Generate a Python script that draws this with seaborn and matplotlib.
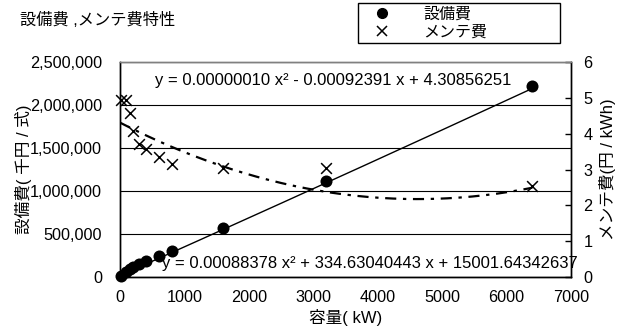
import numpy as np
import pandas as pd
import matplotlib
matplotlib.use("Agg")
import matplotlib.pyplot as plt
import seaborn as sns
from matplotlib.lines import Line2D

sns.set_theme(style="white")
plt.rcParams['font.family'] = ['Liberation Sans', 'Noto Sans CJK JP', 'DejaVu Sans']

# ---- data ----
capacity = [20, 100, 150, 200, 300, 400, 600, 800, 1600, 3200, 6400]          # kW
equip_cost = [15000, 60000, 90000, 115000, 150000, 190000, 245000, 300000,
              575000, 1120000, 2220000]                                          # 千円/式
maint_cost = [4.95, 4.95, 4.57, 4.07, 3.71, 3.56, 3.35, 3.16, 3.03, 3.03, 2.54]  # 円/kWh

# trend-line coefficients as printed on the chart
equip_coef = [0.00088378, 334.63040443, 15001.64342637]
maint_coef = [0.00000010, -0.00092391, 4.30856251]

title = "設備費 ,メンテ費特性"
equip_label = "設備費"
maint_label = "メンテ費"
xlabel = "容量( kW)"
ylabel_left = "設備費( 千円 / 式)"
ylabel_right = "メンテ費(円 / kWh)"
eq_maint = "y = 0.00000010 x² - 0.00092391 x + 4.30856251"
eq_equip = "y = 0.00088378 x² + 334.63040443 x + 15001.64342637"
xticks = [0, 1000, 2000, 3000, 4000, 5000, 6000, 7000]
yticks_left = [0, 500000, 1000000, 1500000, 2000000, 2500000]
yticks_right = [0, 1, 2, 3, 4, 5, 6]

df = pd.DataFrame({"capacity": capacity, "equip": equip_cost, "maint": maint_cost})
xfit = np.linspace(0, 6400, 200)
fit_df = pd.DataFrame({"x": xfit,
                       "equip": np.polyval(equip_coef, xfit),
                       "maint": np.polyval(maint_coef, xfit)})

FS = 11.7

fig = plt.figure(figsize=(6.26, 3.31), dpi=100)
ax = fig.add_axes([120/626, 1-277/331, 451/626, 215/331])
ax2 = ax.twinx()

# equipment cost (left axis)
sns.lineplot(data=fit_df, x="x", y="equip", ax=ax, color="black", lw=1.0, zorder=3)
sns.scatterplot(data=df, x="capacity", y="equip", ax=ax, color="black", marker="o",
                s=75, edgecolor="black", linewidth=0, zorder=4, clip_on=False)

# maintenance cost (right axis)
sns.lineplot(data=fit_df, x="x", y="maint", ax=ax2, color="black", lw=1.6,
             linestyle=(0, (5, 3, 1.5, 3)), zorder=3)
sns.scatterplot(data=df, x="capacity", y="maint", ax=ax2, color="black", marker="x",
                s=60, linewidth=1.1, zorder=4, clip_on=False)

ax.set_xlim(0, 7000)
ax.set_ylim(0, 2500000)
ax2.set_ylim(0, 6)
ax.set_xticks(xticks)
ax.set_yticks(yticks_left)
ax.set_yticklabels([f"{v:,}" for v in yticks_left])
ax2.set_yticks(yticks_right)
ax2.set_yticklabels([str(v) for v in yticks_right])

ax.grid(axis="y", color="black", lw=0.8)
ax.grid(axis="x", visible=False)
ax2.grid(False)

for a in (ax, ax2):
    for s in a.spines.values():
        s.set_color("black")
        s.set_linewidth(1.0)
ax.spines["top"].set_color("#808080")
ax2.spines["top"].set_color("#808080")

ax.tick_params(axis="x", direction="in", length=4, width=1, color="black",
               labelsize=FS, pad=9, labelcolor="black")
ax.tick_params(axis="y", length=0, labelsize=FS, pad=13, labelcolor="black")
ax2.tick_params(axis="y", direction="in", length=4, width=1, color="black",
                labelsize=FS, pad=9, labelcolor="black")

ax.set_xlabel(xlabel, fontsize=12, color="black", va="center", ha="center")
ax.xaxis.set_label_coords(0.5, -0.19)
ax.set_ylabel(ylabel_left, fontsize=12, color="black", ha="center", va="center")
ax.yaxis.set_label_coords(-0.215, 0.5)
ax2.set_ylabel(ylabel_right, fontsize=12, color="black", ha="center", va="center")
ax2.yaxis.set_label_coords(1.08, 0.5)

ax.text(0.078, 0.916, eq_maint, transform=ax.transAxes, fontsize=12,
        ha="left", va="center", color="black", zorder=6)
ax.text(0.093, 0.065, eq_equip, transform=ax.transAxes, fontsize=12,
        ha="left", va="center", color="black", zorder=6)

fig.text(20/626, 1-20/331, title, fontsize=FS, ha="left", va="center", color="black")

handles = [Line2D([], [], color="black", marker="o", ls="none", markersize=7),
           Line2D([], [], color="black", marker="x", ls="none", markersize=7, mew=1.1)]
leg = ax2.legend(handles, [equip_label, maint_label], loc="upper left",
                 bbox_to_anchor=(358/626, 1-3/331, 202/626, 0.0),
                 bbox_transform=fig.transFigure, mode="expand",
                 frameon=True, fancybox=False, edgecolor="black", fontsize=11.5,
                 borderaxespad=0, borderpad=0.2, labelspacing=0.2,
                 handletextpad=1.3, handlelength=2.6)
leg.get_frame().set_linewidth(1.0)
leg.get_frame().set_facecolor("white")
leg.get_frame().set_alpha(1)
for t in leg.get_texts():
    t.set_color("black")

fig.savefig("out.png", dpi=100)
